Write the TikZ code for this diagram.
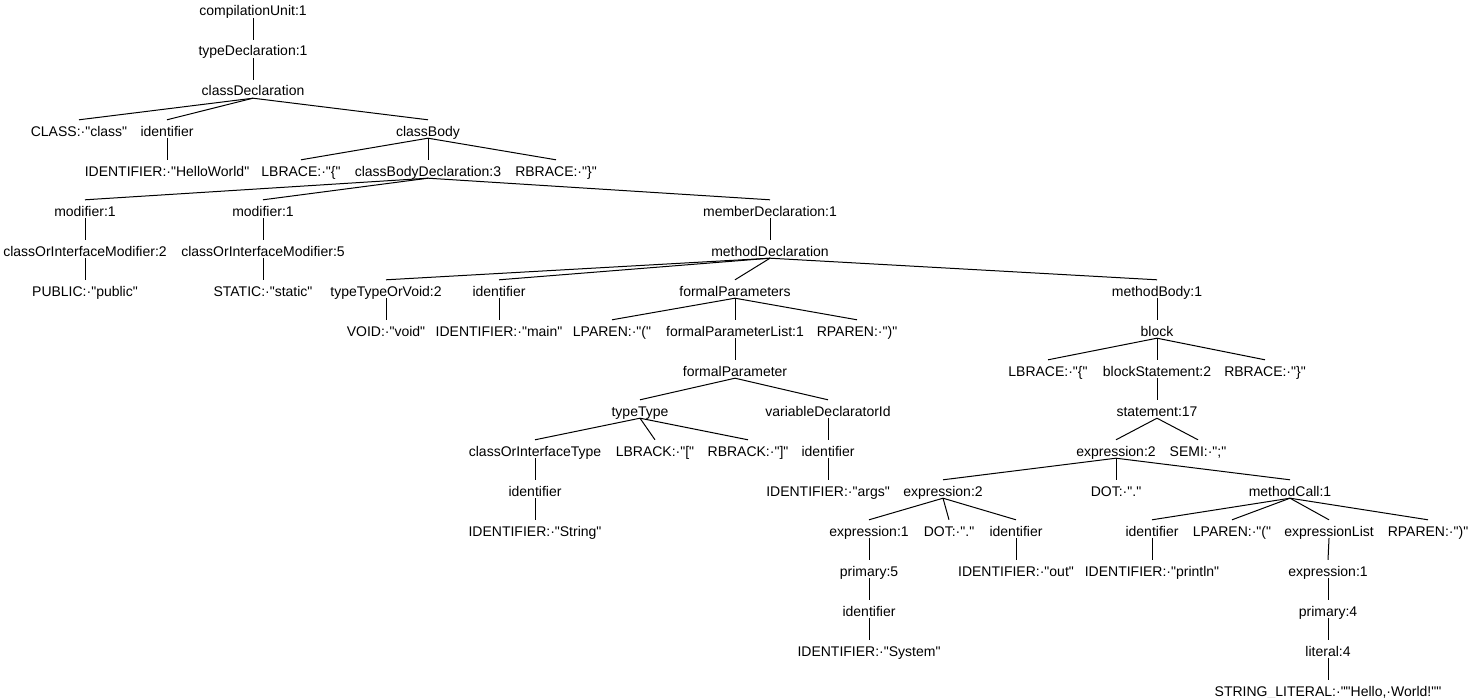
\documentclass[tikz,border=0pt]{standalone}
\usepackage{fontspec}
\newfontfamily\treefont{Liberation Sans}[Ligatures=TeXOff]
\tikzset{
  tn/.style={font=\treefont\fontsize{14}{16}\selectfont, anchor=base,
    inner sep=0pt, text height=16pt, text depth=2pt},
  link/.style={line width=1pt, black}
}
\begin{document}
\begin{tikzpicture}[x=1pt, y=-1pt]
    \useasboundingbox (0,0) rectangle (1471,698);

    % Top of the tree
    \node[tn] (cu) at (253,16) {compilationUnit:1};
    \node[tn] (td) at (253,56) {typeDeclaration:1};
    \node[tn] (cd) at (253,96) {classDeclaration};

    % Class header and body
    \node[tn] (clsTok) at (79,136) {CLASS:·"class"};
    \node[tn] (clsId) at (167,136) {identifier};
    \node[tn] (cb) at (428,136) {classBody};
    \node[tn] (clsIdTok) at (167,176) {IDENTIFIER:·"HelloWorld"};
    \node[tn] (lbr) at (301,176) {LBRACE:·"\{"};
    \node[tn] (cbd) at (428,176) {classBodyDeclaration:3};
    \node[tn] (rbr) at (556,176) {RBRACE:·"\}"};

    % Modifiers
    \node[tn] (mod1) at (85,216) {modifier:1};
    \node[tn] (mod2) at (263,216) {modifier:1};
    \node[tn] (coim1) at (85,256) {classOrInterfaceModifier:2};
    \node[tn] (coim2) at (263,256) {classOrInterfaceModifier:5};
    \node[tn] (pub) at (85,296) {PUBLIC:·"public"};
    \node[tn] (stat) at (263,296) {STATIC:·"static"};

    % Method header
    \node[tn] (memb) at (770,216) {memberDeclaration:1};
    \node[tn] (md) at (770,256) {methodDeclaration};
    \node[tn] (ttv) at (386,296) {typeTypeOrVoid:2};
    \node[tn] (mId) at (499,296) {identifier};
    \node[tn] (fps) at (735,296) {formalParameters};
    \node[tn] (mb) at (1157,296) {methodBody:1};
    \node[tn] (void) at (386,336) {VOID:·"void"};
    \node[tn] (mIdTok) at (499,336) {IDENTIFIER:·"main"};
    \node[tn] (lp) at (612,336) {LPAREN:·"("};
    \node[tn] (fpl) at (735,336) {formalParameterList:1};
    \node[tn] (rp) at (857,336) {RPAREN:·")"};

    % Parameter
    \node[tn] (fp) at (735,376) {formalParameter};
    \node[tn] (tt) at (640,416) {typeType};
    \node[tn] (vdi) at (828,416) {variableDeclaratorId};
    \node[tn] (coit) at (535,456) {classOrInterfaceType};
    \node[tn] (lbk) at (655,456) {LBRACK:·"["};
    \node[tn] (rbk) at (748,456) {RBRACK:·"]"};
    \node[tn] (vdiId) at (828,456) {identifier};
    \node[tn] (coitId) at (535,496) {identifier};
    \node[tn] (args) at (828,496) {IDENTIFIER:·"args"};
    \node[tn] (coitTok) at (535,536) {IDENTIFIER:·"String"};

    % Method body
    \node[tn] (blk) at (1157,336) {block};
    \node[tn] (lbr2) at (1048,376) {LBRACE:·"\{"};
    \node[tn] (bs) at (1157,376) {blockStatement:2};
    \node[tn] (rbr2) at (1265,376) {RBRACE:·"\}"};
    \node[tn] (stmt) at (1157,416) {statement:17};
    \node[tn] (ex) at (1116,456) {expression:2};
    \node[tn] (semi) at (1198,456) {SEMI:·";"};
    \node[tn] (exL) at (943,496) {expression:2};
    \node[tn] (dot1) at (1116,496) {DOT:·"."};
    \node[tn] (mc) at (1290,496) {methodCall:1};

    % System.out
    \node[tn] (ex1) at (869,536) {expression:1};
    \node[tn] (dot2) at (949,536) {DOT:·"."};
    \node[tn] (outId) at (1016,536) {identifier};
    \node[tn] (prim5) at (869,576) {primary:5};
    \node[tn] (outTok) at (1016,576) {IDENTIFIER:·"out"};
    \node[tn] (sysId) at (869,616) {identifier};
    \node[tn] (sysTok) at (869,656) {IDENTIFIER:·"System"};

    % println call
    \node[tn] (pId) at (1152,536) {identifier};
    \node[tn] (lp2) at (1232,536) {LPAREN:·"("};
    \node[tn] (el) at (1329,536) {expressionList};
    \node[tn] (rp2) at (1428,536) {RPAREN:·")"};
    \node[tn] (pTok) at (1152,576) {IDENTIFIER:·"println"};
    \node[tn] (ex3) at (1328,576) {expression:1};
    \node[tn] (prim4) at (1328,616) {primary:4};
    \node[tn] (lit) at (1328,656) {literal:4};
    \node[tn] (str) at (1328,696) {STRING\_LITERAL:·""Hello,·World!""};

    % Branches
    \draw[link] (cu.south) -- (td.north);
    \draw[link] (td.south) -- (cd.north);
    \draw[link] (cd.south) edge (clsTok.north) edge (clsId.north) edge (cb.north);
    \draw[link] (clsId.south) -- (clsIdTok.north);
    \draw[link] (cb.south) edge (lbr.north) edge (cbd.north) edge (rbr.north);
    \draw[link] (cbd.south) edge (mod1.north) edge (mod2.north) edge (memb.north);
    \draw[link] (mod1.south) -- (coim1.north);
    \draw[link] (coim1.south) -- (pub.north);
    \draw[link] (mod2.south) -- (coim2.north);
    \draw[link] (coim2.south) -- (stat.north);
    \draw[link] (memb.south) -- (md.north);
    \draw[link] (md.south) edge (ttv.north) edge (mId.north) edge (fps.north) edge (mb.north);
    \draw[link] (ttv.south) -- (void.north);
    \draw[link] (mId.south) -- (mIdTok.north);
    \draw[link] (fps.south) edge (lp.north) edge (fpl.north) edge (rp.north);
    \draw[link] (fpl.south) -- (fp.north);
    \draw[link] (fp.south) edge (tt.north) edge (vdi.north);
    \draw[link] (tt.south) edge (coit.north) edge (lbk.north) edge (rbk.north);
    \draw[link] (coit.south) -- (coitId.north);
    \draw[link] (coitId.south) -- (coitTok.north);
    \draw[link] (vdi.south) -- (vdiId.north);
    \draw[link] (vdiId.south) -- (args.north);
    \draw[link] (mb.south) -- (blk.north);
    \draw[link] (blk.south) edge (lbr2.north) edge (bs.north) edge (rbr2.north);
    \draw[link] (bs.south) -- (stmt.north);
    \draw[link] (stmt.south) edge (ex.north) edge (semi.north);
    \draw[link] (ex.south) edge (exL.north) edge (dot1.north) edge (mc.north);
    \draw[link] (exL.south) edge (ex1.north) edge (dot2.north) edge (outId.north);
    \draw[link] (ex1.south) -- (prim5.north);
    \draw[link] (prim5.south) -- (sysId.north);
    \draw[link] (sysId.south) -- (sysTok.north);
    \draw[link] (outId.south) -- (outTok.north);
    \draw[link] (mc.south) edge (pId.north) edge (lp2.north) edge (el.north) edge (rp2.north);
    \draw[link] (pId.south) -- (pTok.north);
    \draw[link] (el.south) -- (ex3.north);
    \draw[link] (ex3.south) -- (prim4.north);
    \draw[link] (prim4.south) -- (lit.north);
    \draw[link] (lit.south) -- (str.north);
\end{tikzpicture}
\end{document}
